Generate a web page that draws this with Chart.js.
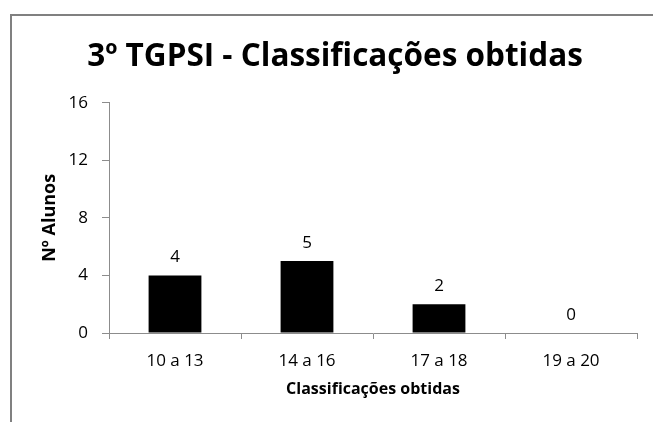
<!DOCTYPE html>
<html>
<head>
<meta charset="utf-8">
<script src="https://cdn.jsdelivr.net/npm/chart.js@4"></script>
<style>
    html, body { margin: 0; padding: 0; background: #fff; }
    #wrap { position: relative; width: 653px; height: 422px; }
</style>
</head>
<body>
<div id="wrap"><canvas id="gradesChart"></canvas></div>
<script>
// Dados do gráfico
const categorias = ['10 a 13', '14 a 16', '17 a 18', '19 a 20'];
const numAlunos = [4, 5, 2, 0];
const tituloGrafico = '3º TGPSI - Classificações obtidas';
const tituloX = 'Classificações obtidas';
const tituloY = 'Nº Alunos';

const fonte = '"Open Sans", Lato, sans-serif';

// Moldura cinzenta à volta do gráfico
const molduraPlugin = {
    id: 'moldura',
    beforeDraw(chart) {
        const ctx = chart.ctx;
        ctx.save();
        ctx.strokeStyle = '#808080';
        ctx.lineWidth = 2;
        ctx.strokeRect(11, 15, 800, 600);
        ctx.restore();
    }
};

// Rótulos de valores por cima das barras
const rotulosPlugin = {
    id: 'rotulos',
    afterDatasetsDraw(chart) {
        const ctx = chart.ctx;
        const meta = chart.getDatasetMeta(0);
        ctx.save();
        ctx.font = '17px ' + fonte;
        ctx.fillStyle = '#000';
        ctx.textAlign = 'center';
        ctx.textBaseline = 'alphabetic';
        meta.data.forEach((bar, i) => {
            ctx.fillText(String(numAlunos[i]), bar.x, bar.y - 13.5);
        });
        ctx.restore();
    }
};

const ctx = document.getElementById('gradesChart');
new Chart(ctx, {
    type: 'bar',
    data: {
        labels: categorias,
        datasets: [{
            label: tituloY,
            data: numAlunos,
            backgroundColor: '#000000',
            borderWidth: 0,
            barPercentage: 0.4,
            categoryPercentage: 1.0
        }]
    },
    options: {
        responsive: true,
        maintainAspectRatio: false,
        animation: false,
        layout: {
            padding: { left: 33, right: 16, top: 0, bottom: 0 }
        },
        plugins: {
            legend: { display: false },
            tooltip: { enabled: false },
            title: {
                display: true,
                text: tituloGrafico,
                color: '#000',
                font: { family: fonte, size: 31.5, weight: 'bold' },
                padding: { top: 38, bottom: 26.9 }
            }
        },
        scales: {
            x: {
                afterFit(scale) { scale.height = 89; },
                grid: {
                    display: true,
                    drawOnChartArea: false,
                    drawTicks: true,
                    tickLength: 6,
                    color: '#8c8c8c',
                    offset: true
                },
                border: { display: true, color: '#8c8c8c', width: 1 },
                ticks: {
                    color: '#000',
                    padding: 11.5,
                    font: { family: fonte, size: 17 }
                },
                title: {
                    display: true,
                    text: tituloX,
                    color: '#000',
                    font: { family: fonte, size: 16, weight: 'bold' },
                    padding: { top: 0, bottom: 23 }
                }
            },
            y: {
                min: 0,
                max: 16,
                afterFit(scale) { scale.width = 76; },
                grid: {
                    display: true,
                    drawOnChartArea: false,
                    drawTicks: true,
                    tickLength: 7,
                    color: '#8c8c8c'
                },
                border: { display: true, color: '#8c8c8c', width: 1 },
                ticks: {
                    stepSize: 4,
                    color: '#000',
                    padding: 14,
                    font: { family: fonte, size: 17 }
                },
                title: {
                    display: true,
                    text: tituloY,
                    color: '#000',
                    font: { family: fonte, size: 18, weight: 'bold' },
                    padding: { top: 6.2, bottom: 0 }
                }
            }
        }
    },
    plugins: [molduraPlugin, rotulosPlugin]
});
</script>
</body>
</html>
